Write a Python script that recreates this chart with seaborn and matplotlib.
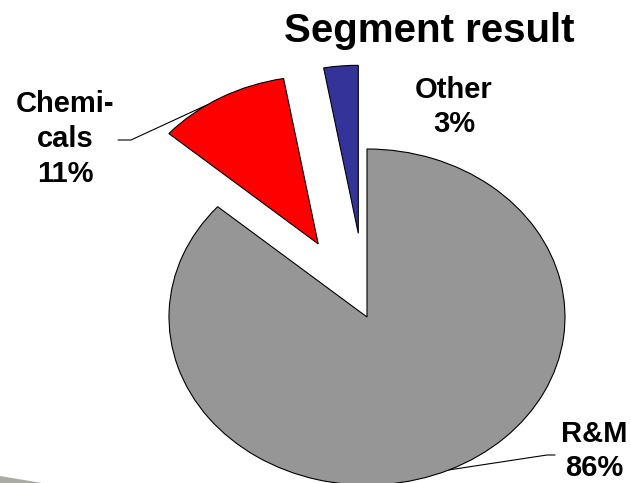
import matplotlib
matplotlib.use("Agg")
import matplotlib.pyplot as plt
import seaborn as sns
import numpy as np
from matplotlib.patches import Polygon

# Segment shares (per cent of result)
segments = ["R&M", "Chemicals", "Other"]
shares = [86.4, 10.8, 2.8]
label_names = ["R&M", "Chemi-\ncals", "Other"]
colors = ["#969696", "#ff0000", "#333399"]
explode = [0.0, 0.5, 0.5]

sns.set_theme(style="white")
plt.rcParams["font.family"] = ["Liberation Sans", "DejaVu Sans"]

W, H = 631, 483
fig = plt.figure(figsize=(W / 100, H / 100), dpi=100)
fig.patch.set_facecolor("white")
ax = fig.add_axes([0, 0, 1, 1])

# pixel-space layout of the pie (centre and horizontal / vertical radius)
CX, CY, RX, RY = 367, 317, 198, 168


def px(x, y):
    return ((x - CX) / RX, (CY - y) / RY)


wedges, _ = ax.pie(
    shares,
    colors=colors,
    explode=explode,
    startangle=90,
    counterclock=False,
    wedgeprops=dict(edgecolor="black", linewidth=0.8),
)
ax.set_aspect("auto")
ax.set_xlim(px(0, 0)[0], px(W, 0)[0])
ax.set_ylim(px(0, H)[1], px(0, 0)[1])
ax.axis("off")


def edge_point(w, frac):
    a = np.deg2rad(w.theta1 + (w.theta2 - w.theta1) * frac)
    cx, cy = w.center
    return cx + w.r * np.cos(a), cy + w.r * np.sin(a)


pct = [f"{round(v)}%" for v in shares]
label_pos = [(594, 451), (65, 139), (454, 107)]
for name, p, (lx, ly) in zip(label_names, pct, label_pos):
    x, y = px(lx, ly)
    ax.text(x, y, f"{name}\n{p}", ha="center", va="center", multialignment="center",
            fontsize=21, fontweight="bold", color="black", linespacing=1.3)

# leader lines
ex, ey = edge_point(wedges[1], 0.62)
a1, a2 = px(118, 140), px(131, 140)
ax.plot([a1[0], a2[0], ex], [a1[1], a2[1], ey], color="black", lw=0.8)

ex, ey = edge_point(wedges[0], 0.5)
b1, b2 = px(555, 455), px(547, 455)
ax.plot([b1[0], b2[0], ex], [b1[1], b2[1], ey], color="black", lw=0.8)

fig.text(429 / W, 1 - 42 / H, "Segment result", ha="center", va="baseline",
         fontsize=29, fontweight="bold", color="black")

# slide decoration in the lower-left corner
fig.add_artist(Polygon([(0, 1 - 476 / H), (42 / W, 0), (0, 0)], closed=True,
                       transform=fig.transFigure, facecolor="#aaaca4", edgecolor="none"))

fig.savefig("out.png", dpi=100)
